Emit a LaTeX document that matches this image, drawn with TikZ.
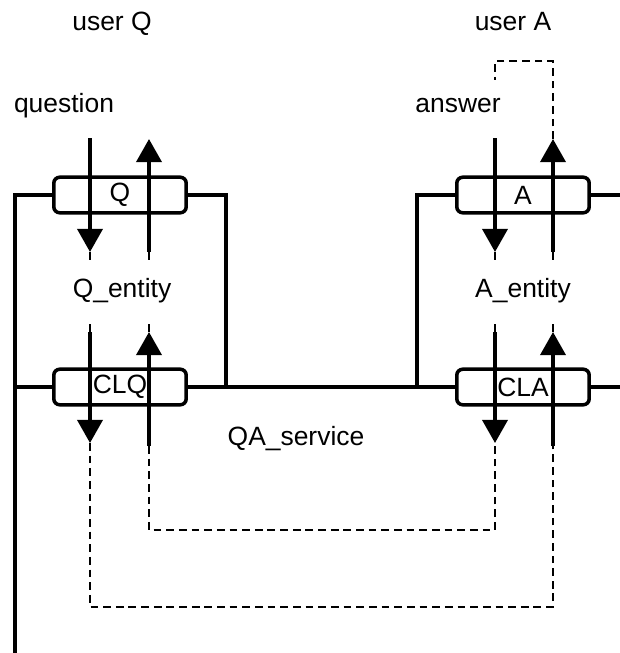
\documentclass[tikz,border=0pt]{standalone}
\usepackage{fontspec}
\setmainfont{Liberation Sans}
\usepackage{tikz}
\usetikzlibrary{arrows.meta,calc}

\tikzset{
    unitbox/.style={draw,line width=2.5pt,rounded corners=0.15cm,fill=white,
        minimum width=3.31cm,minimum height=0.89cm,inner sep=0pt,font=\lblfont},
    wire/.style={line width=2.5pt},
    flow/.style={line width=2.5pt,-{Triangle[width=0.63cm,length=0.58cm]}},
    link/.style={line width=1.4pt,dash pattern=on 5.5pt off 3.5pt},
    lbl/.style={font=\lblfont,anchor=base,inner sep=0pt},
    entity/.style={font=\lblfont,inner sep=0pt,minimum height=1.5cm,
        text height=0.75em,text depth=0.25em}
}
\newcommand{\lblfont}{\fontsize{18.8}{22}\selectfont}

\begin{document}
\begin{tikzpicture}[x=0.025cm,y=-0.025cm]
    \useasboundingbox (0,0) rectangle (620,653);

    % Textes
    \node[lbl] (userQ) at (112,30) {user Q};
    \node[lbl] (userA) at (513,30) {user A};
    \node[lbl] (question) at (64,112) {question};
    \node[lbl] (answer) at (458,112) {answer};
    \node[entity] (Qentity) at (122,294) {Q\_entity};
    \node[entity] (Aentity) at (523,294) {A\_entity};
    \node[lbl] (QAservice) at (296,445) {QA\_service};

    % Points du bus
    \coordinate (busTop) at (15,195);
    \coordinate (busMid) at (15,387);
    \coordinate (busEnd) at (15,653);
    \coordinate (jQ) at (226,387);
    \coordinate (jA) at (417,387);
    \coordinate (edgeA) at (620,195);
    \coordinate (edgeCLA) at (620,387);

    % Bus
    \draw[wire] (120,195) -- (busTop) -- (busEnd);
    \draw[wire] (busMid) -- (120,387);
    \draw[wire] (120,195) -| (jQ);
    \draw[wire] (120,387) -- (523,387);
    \draw[wire] (523,195) -| (jA);
    \draw[wire] (523,195) -- (edgeA);
    \draw[wire] (523,387) -- (edgeCLA);

    % Boites
    \node[unitbox] (boxQ) at (120,195) {Q};
    \node[unitbox] (boxA) at (523,195) {A};
    \node[unitbox] (boxCLQ) at (120,387) {CLQ};
    \node[unitbox] (boxCLA) at (523,387) {CLA};

    % Extremites des fleches
    \coordinate (qIn) at (90,138);    \coordinate (qOut) at (90,252);
    \coordinate (qUpS) at (149,252);  \coordinate (qUpE) at (149,139);
    \coordinate (cqIn) at (90,332);   \coordinate (cqOut) at (90,443);
    \coordinate (cqUpS) at (149,446); \coordinate (cqUpE) at (149,332);
    \coordinate (aIn) at (495,138);   \coordinate (aOut) at (495,252);
    \coordinate (aUpS) at (553,252);  \coordinate (aUpE) at (553,139);
    \coordinate (caIn) at (495,332);  \coordinate (caOut) at (495,443);
    \coordinate (caUpS) at (553,446); \coordinate (caUpE) at (553,332);
    \coordinate (userAin) at (495,80);

    \draw[flow] (qIn) -- (qOut);
    \draw[flow] (qUpS) -- (qUpE);
    \draw[flow] (cqIn) -- (cqOut);
    \draw[flow] (cqUpS) -- (cqUpE);
    \draw[flow] (aIn) -- (aOut);
    \draw[flow] (aUpS) -- (aUpE);
    \draw[flow] (caIn) -- (caOut);
    \draw[flow] (caUpS) -- (caUpE);

    % Liens en pointilles
    \draw[link] (qOut) -- (qOut |- Qentity.north);
    \draw[link] (qUpS) -- (qUpS |- Qentity.north);
    \draw[link] (cqIn |- Qentity.south) -- (cqIn);
    \draw[link] (cqUpE |- Qentity.south) -- (cqUpE);
    \draw[link] (aOut) -- (aOut |- Aentity.north);
    \draw[link] (aUpS) -- (aUpS |- Aentity.north);
    \draw[link] (caIn |- Aentity.south) -- (caIn);
    \draw[link] (caUpE |- Aentity.south) -- (caUpE);

    \draw[link] (cqOut) -- (90,607) -- (553,607) -- (caUpS);
    \draw[link] (cqUpS) -- (149,530) -- (495,530) -- (caOut);
    \draw[link] (aUpE) -- (553,61) -- (495,61) -- (userAin);
\end{tikzpicture}
\end{document}
